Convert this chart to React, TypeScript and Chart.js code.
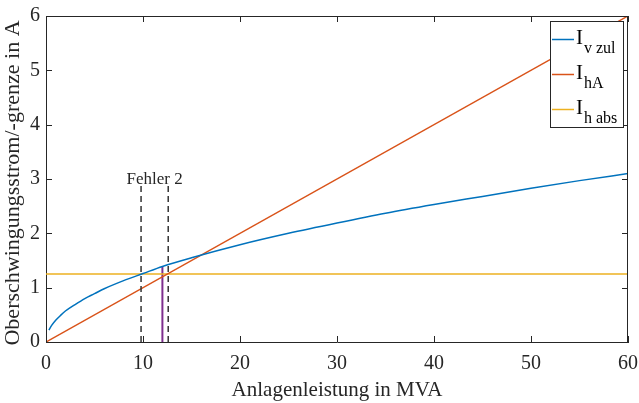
import React, { useEffect, useRef } from "react";
import { Chart, registerables } from "chart.js";

Chart.register(...registerables);

// Blue: I_v zul
const ivS = [0.3, 0.6, 1, 1.5, 2, 3, 4, 5, 6, 8, 10, 12, 15, 20, 25, 30, 35, 40, 45, 50, 55, 60];
const ivI = [0.22, 0.31, 0.4, 0.49, 0.57, 0.69, 0.8, 0.89, 0.98, 1.13, 1.26, 1.39, 1.55, 1.79, 2.0, 2.19, 2.37, 2.53, 2.68, 2.83, 2.97, 3.1];
// Red: I_hA
const ihaS = [0, 60];
const ihaI = [0, 6];
// Yellow: I_h abs
const ihabsS = [0, 60];
const ihabsI = [1.25, 1.25];
// Purple marker line
const markS = [12, 12];
const markI = [0, 1.39];
// Dashed "Fehler 2" bounds
const err1S = [9.8, 9.8];
const err2S = [12.6, 12.6];
const errI = [0, 2.87];
const errLabel = "Fehler 2";
const errLabelPos = [11.2, 2.9];

const xTicks = [0, 10, 20, 30, 40, 50, 60];
const yTicks = [0, 1, 2, 3, 4, 5, 6];
const xTitle = "Anlagenleistung in MVA";
const yTitle = "Oberschwingungsstrom/-grenze in A";

const legendItems = [
  { main: "I", sub: "v zul", color: "#0072BD" },
  { main: "I", sub: "hA", color: "#D95319" },
  { main: "I", sub: "h abs", color: "#EDB120" },
];

const FONT = "'Liberation Serif', 'Times New Roman', serif";
const AXIS = "#262626";

const pts = (xs: number[], ys: number[]) => xs.map((x, i) => ({ x, y: ys[i] }));

export default function App() {
  const ref = useRef<HTMLCanvasElement | null>(null);
  useEffect(() => {
    document.body.style.margin = "0";
    const overlay = {
      id: "overlay",
      afterDatasetsDraw(chart: any) {
        const { ctx, chartArea: a, scales } = chart;
        const xs = scales.x, ys = scales.y;
        ctx.save();
        ctx.strokeStyle = AXIS;
        ctx.lineWidth = 1;
        ctx.beginPath();
        ctx.moveTo(a.left, a.top + 0.5);
        ctx.lineTo(a.right, a.top + 0.5);
        ctx.moveTo(a.right - 0.5, a.top);
        ctx.lineTo(a.right - 0.5, a.bottom);
        ctx.stroke();
        ctx.beginPath();
        xTicks.forEach((v) => {
          const px = Math.round(xs.getPixelForValue(v)) + 0.5;
          ctx.moveTo(px, a.bottom);
          ctx.lineTo(px, a.bottom - 6);
          ctx.moveTo(px, a.top);
          ctx.lineTo(px, a.top + 6);
        });
        yTicks.forEach((v) => {
          const py = Math.round(ys.getPixelForValue(v)) + 0.5;
          ctx.moveTo(a.left, py);
          ctx.lineTo(a.left + 6, py);
          ctx.moveTo(a.right, py);
          ctx.lineTo(a.right - 6, py);
        });
        ctx.stroke();
        // y title
        ctx.save();
        ctx.translate(13, 183);
        ctx.rotate(-Math.PI / 2);
        ctx.fillStyle = AXIS;
        ctx.font = `22px ${FONT}`;
        ctx.textAlign = "center";
        ctx.textBaseline = "middle";
        ctx.fillText(yTitle, 0, 0);
        ctx.restore();
        // Fehler 2 label
        ctx.fillStyle = AXIS;
        ctx.font = `17px ${FONT}`;
        ctx.textAlign = "center";
        ctx.textBaseline = "alphabetic";
        ctx.fillText(errLabel, xs.getPixelForValue(errLabelPos[0]), ys.getPixelForValue(errLabelPos[1]));
        // legend
        const lx = 550, ly = 21, lw = 73, lh = 106;
        ctx.fillStyle = "#ffffff";
        ctx.fillRect(lx, ly, lw, lh);
        ctx.strokeStyle = AXIS;
        ctx.strokeRect(lx + 0.5, ly + 0.5, lw, lh);
        legendItems.forEach((it, i) => {
          const cy = 39.5 + i * 35;
          ctx.strokeStyle = it.color;
          ctx.lineWidth = 1.5;
          ctx.beginPath();
          ctx.moveTo(552, cy);
          ctx.lineTo(574, cy);
          ctx.stroke();
          ctx.fillStyle = "#000";
          ctx.textAlign = "left";
          ctx.textBaseline = "alphabetic";
          ctx.font = `21px ${FONT}`;
          ctx.fillText(it.main, 576, cy + 4);
          ctx.font = `16px ${FONT}`;
          ctx.fillText(it.sub, 584, cy + 13);
        });
        ctx.restore();
      },
    };
    const line = (data: any, color: string, width = 1.5, dash: number[] = [], smooth = false) => ({
      data,
      borderColor: color,
      backgroundColor: color,
      borderWidth: width,
      borderDash: dash,
      showLine: true,
      pointRadius: 0,
      fill: false,
      cubicInterpolationMode: smooth ? "monotone" : "default",
      tension: smooth ? 0.4 : 0,
    });
    const chart = new Chart(ref.current as HTMLCanvasElement, {
      type: "scatter",
      data: {
        datasets: [
          line(pts(err1S, errI), "#333333", 1.5, [6, 4]),
          line(pts(err2S, errI), "#333333", 1.5, [6, 4]),
          line(pts(ivS, ivI), "#0072BD", 1.5, [], true),
          line(pts(ihaS, ihaI), "#D95319"),
          line(pts(ihabsS, ihabsI), "#EDB120"),
          line(pts(markS, markI), "#7E2F8E", 2),
        ] as any,
      },
      options: {
        animation: false,
        responsive: true,
        maintainAspectRatio: false,
        layout: { padding: { left: 0, top: 16, right: 11, bottom: 0 } },
        plugins: { legend: { display: false }, tooltip: { enabled: false } },
        scales: {
          x: {
            type: "linear",
            min: 0,
            max: 60,
            afterFit: (s: any) => { s.height = 61; s.paddingLeft = 0; s.paddingRight = 0; },
            afterBuildTicks: (s: any) => { s.ticks = xTicks.map((v) => ({ value: v })); },
            ticks: { font: { family: FONT, size: 20 }, color: AXIS, padding: 10, maxRotation: 0 },
            grid: { display: false, drawTicks: false },
            border: { display: true, color: AXIS, width: 1 },
            title: { display: true, text: xTitle, font: { family: FONT, size: 21 }, color: AXIS, padding: { top: 2, bottom: 0 } },
          },
          y: {
            type: "linear",
            min: 0,
            max: 6,
            afterFit: (s: any) => { s.width = 46; s.paddingTop = 0; s.paddingBottom = 0; },
            afterBuildTicks: (s: any) => { s.ticks = yTicks.map((v) => ({ value: v })); },
            ticks: { font: { family: FONT, size: 20 }, color: AXIS, padding: 6 },
            grid: { display: false, drawTicks: false },
            border: { display: true, color: AXIS, width: 1 },
            title: { display: false },
          },
        },
      },
      plugins: [overlay],
    } as any);
    return () => chart.destroy();
  }, []);
  return (
    <div style={{ position: "absolute", left: 0, top: 0, width: 639, height: 403 }}>
      <canvas ref={ref} />
    </div>
  );
}
